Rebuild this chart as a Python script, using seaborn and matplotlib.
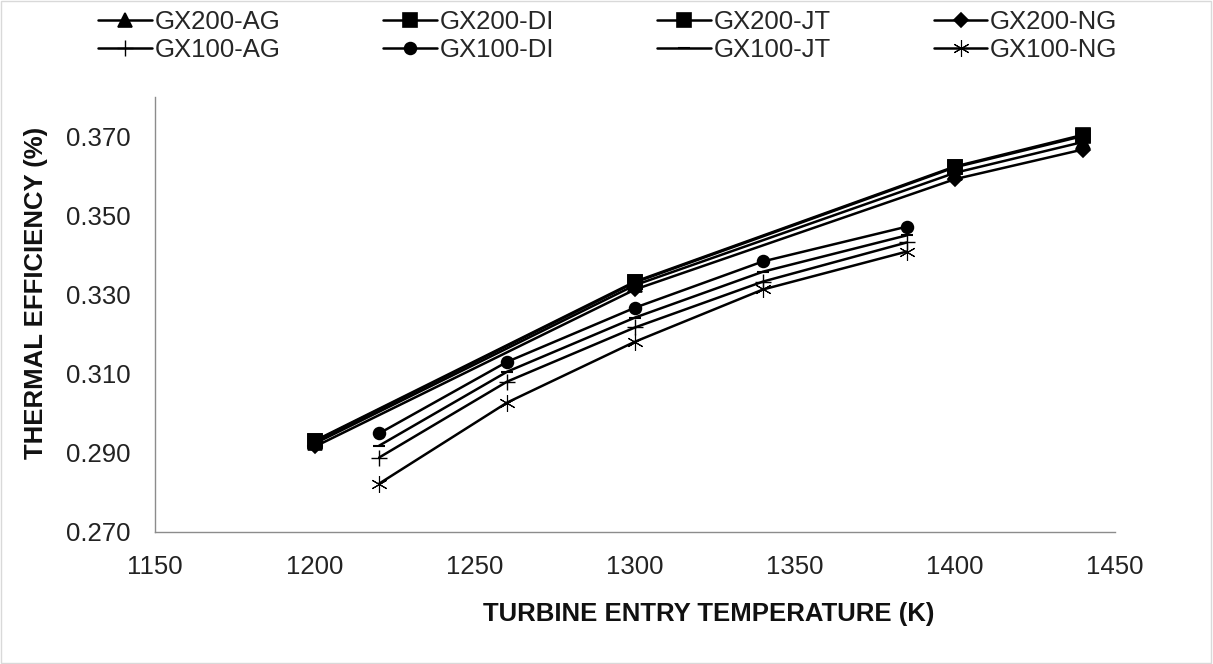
import numpy as np
import pandas as pd
import seaborn as sns
import matplotlib.pyplot as plt
from matplotlib.patches import Rectangle

# datos
tet_gx200 = [1200, 1300, 1400, 1440]
gx200_ag = [0.2924, 0.3324, 0.3608, 0.3686]
gx200_di = [0.2931, 0.3333, 0.3624, 0.3704]
gx200_jt = [0.2929, 0.3331, 0.3622, 0.3701]
gx200_ng = [0.2916, 0.3313, 0.3592, 0.3667]

tet_gx100 = [1220, 1260, 1300, 1340, 1385]
gx100_ag = [0.2888, 0.3080, 0.3217, 0.3333, 0.3432]
gx100_di = [0.2949, 0.3130, 0.3267, 0.3384, 0.3472]
gx100_jt = [0.2918, 0.3105, 0.3242, 0.3358, 0.3450]
gx100_ng = [0.2822, 0.3027, 0.3181, 0.3313, 0.3409]

y_ticks = [0.270, 0.290, 0.310, 0.330, 0.350, 0.370]
x_ticks = [1150, 1200, 1250, 1300, 1350, 1400, 1450]

sns.set_style("white")
plt.rcParams['font.family'] = ['Liberation Sans', 'DejaVu Sans']

fig = plt.figure(figsize=(12.13, 6.64), dpi=100)
ax = fig.add_axes([0.128, 0.199, 0.791, 0.655])

# (nombre, x, y, marcador, tamaño, grosor borde)
series = [
    ("GX200-AG", tet_gx200, gx200_ag, "^", 10, 1.2),
    ("GX100-AG", tet_gx100, gx100_ag, "+", 12, 1.0),
    ("GX200-DI", tet_gx200, gx200_di, "s", 10, 1.2),
    ("GX100-DI", tet_gx100, gx100_di, "o", 8.5, 1.2),
    ("GX200-JT", tet_gx200, gx200_jt, "s", 10, 1.2),
    ("GX100-JT", tet_gx100, gx100_jt, "_", 8, 1.5),
    ("GX200-NG", tet_gx200, gx200_ng, "D", 7.5, 1.2),
    ("GX100-NG", tet_gx100, gx100_ng, (6, 2, 0), 12, 0.8),
]

for name, xs, ys, mk, ms, mew in series:
    sns.lineplot(x=xs, y=ys, ax=ax, color="black", linewidth=1.8,
                 marker=mk, markersize=ms, markeredgecolor="black",
                 markeredgewidth=mew, label=name)

ax.set_xlim(1150, 1450)
ax.set_ylim(0.270, 0.380)
ax.set_xticks(x_ticks)
ax.set_yticks(y_ticks)
ax.set_yticklabels([f"{v:.3f}" for v in y_ticks])

for s in ["top", "right"]:
    ax.spines[s].set_visible(False)
for s in ["left", "bottom"]:
    ax.spines[s].set_color("#8c8c8c")
    ax.spines[s].set_linewidth(1.0)

ax.tick_params(axis="both", direction="out", length=6, width=1.0,
               color="#8c8c8c", labelsize=18.5, labelcolor="#222222")
ax.tick_params(axis="x", pad=11)
ax.tick_params(axis="y", pad=12)

ax.set_xlabel("TURBINE ENTRY TEMPERATURE (K)", fontsize=18.5,
              fontweight="bold", color="#111111")
ax.set_ylabel("THERMAL EFFICIENCY (%)", fontsize=18.5,
              fontweight="bold", color="#111111")
ax.xaxis.set_label_coords(0.577, -0.189)
ax.yaxis.set_label_coords(-0.124, 0.549)
ax.xaxis.label.set_va("center")
ax.yaxis.label.set_va("center")

handles, labels = ax.get_legend_handles_labels()
ax.get_legend().remove()
fig.legend(handles, labels, ncol=4, loc="upper center",
           bbox_to_anchor=(0.501, 1.02), frameon=False, fontsize=18.5,
           handlelength=2.1, handletextpad=0.1, columnspacing=4.0,
           labelspacing=0.15)

# marco gris alrededor
fig.patches.append(Rectangle((0.001, 0.002), 0.997, 0.996,
                             transform=fig.transFigure, fill=False,
                             edgecolor="#d9d9d9", linewidth=1.0))

fig.savefig("out.png", dpi=100)
